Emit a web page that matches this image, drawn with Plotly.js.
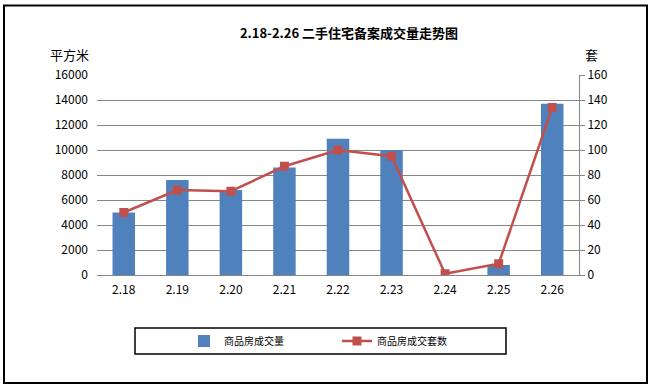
<!DOCTYPE html>
<html>
<head>
<meta charset="utf-8">
<script src="https://cdn.plot.ly/plotly-3.0.1.min.js"></script>
<style>html,body{margin:0;padding:0;background:#fff;}#chart{width:651px;height:388px;}</style>
</head>
<body>
<div id="chart"></div>
<script>
const categories = ["2.18", "2.19", "2.20", "2.21", "2.22", "2.23", "2.24", "2.25", "2.26"];
const areaValues = [5000, 7600, 6800, 8600, 10900, 10000, 0, 800, 13700];
const unitValues = [50, 68, 67, 87, 100, 95, 1, 9, 134];
const areaName = "商品房成交量";
const unitName = "商品房成交套数";
const titleText = "2.18-2.26 二手住宅备案成交量走势图";
const leftUnit = "平方米";
const rightUnit = "套";

const W = 651, H = 388;
const L = 97, R = 579, T = 75, B = 275;
const pw = R - L, ph = B - T;
const px = x => (x - L) / pw;
const py = y => (B - y) / ph;

const font = "SimSun, 'Noto Sans CJK SC', 'DejaVu Sans', sans-serif";

const traces = [
  {
    type: "bar", x: categories, y: areaValues, name: areaName,
    marker: {color: "#4F81BD"}, yaxis: "y", width: 0.42
  },
  {
    type: "scatter", mode: "lines+markers", x: categories, y: unitValues, name: unitName,
    line: {color: "#C0504D", width: 2.5}, marker: {symbol: "square", size: 9, color: "#C0504D"},
    yaxis: "y2"
  }
];

const layout = {
  width: W, height: H,
  margin: {l: L, r: W - R, t: T, b: H - B, pad: 0},
  paper_bgcolor: "#fff", plot_bgcolor: "#fff",
  font: {family: font, size: 12, color: "#000"},
  showlegend: true,
  title: {text: "<b>" + titleText + "</b>", x: 349 / W, xanchor: "center", y: 1 - 33 / H, yanchor: "middle", font: {size: 13, family: font}},
  xaxis: {
    type: "category", showgrid: false, showline: true, linecolor: "#868686", linewidth: 1,
    ticks: "", tickfont: {size: 12}, ticklen: 0, range: [-0.5, 8.5], ticklabelstandoff: 4
  },
  yaxis: {
    range: [0, 16000], dtick: 2000, tickformat: "d", showgrid: true, gridcolor: "#868686", gridwidth: 1,
    zeroline: false, showline: false, ticks: "", tickfont: {size: 12}, ticklabelstandoff: 8
  },
  yaxis2: {
    overlaying: "y", side: "right", range: [0, 160], dtick: 20, showgrid: false,
    zeroline: false, showline: true, linecolor: "#868686", linewidth: 1,
    ticks: "outside", ticklen: 5, tickcolor: "#868686", tickfont: {size: 12}
  },
  legend: {
    orientation: "h", x: px(184), xanchor: "left", y: py(341), yanchor: "middle",
    font: {size: 10}, entrywidth: 108, bgcolor: "rgba(0,0,0,0)", borderwidth: 0
  },
  annotations: [
    {text: leftUnit, xref: "paper", yref: "paper", x: px(69), y: py(55), showarrow: false, xanchor: "center", yanchor: "middle", font: {size: 13}},
    {text: rightUnit, xref: "paper", yref: "paper", x: px(591), y: py(55), showarrow: false, xanchor: "center", yanchor: "middle", font: {size: 13}}
  ],
  shapes: [
    {type: "rect", xref: "paper", yref: "paper", x0: px(135), x1: px(506), y0: py(354), y1: py(328), line: {color: "#000", width: 1.5}},
    {type: "rect", xref: "paper", yref: "paper", x0: px(4), x1: px(647), y0: py(383), y1: py(5.5), line: {color: "#000", width: 2}}
  ]
};

Plotly.newPlot("chart", traces, layout, {displayModeBar: false, staticPlot: true});
</script>
</body>
</html>
